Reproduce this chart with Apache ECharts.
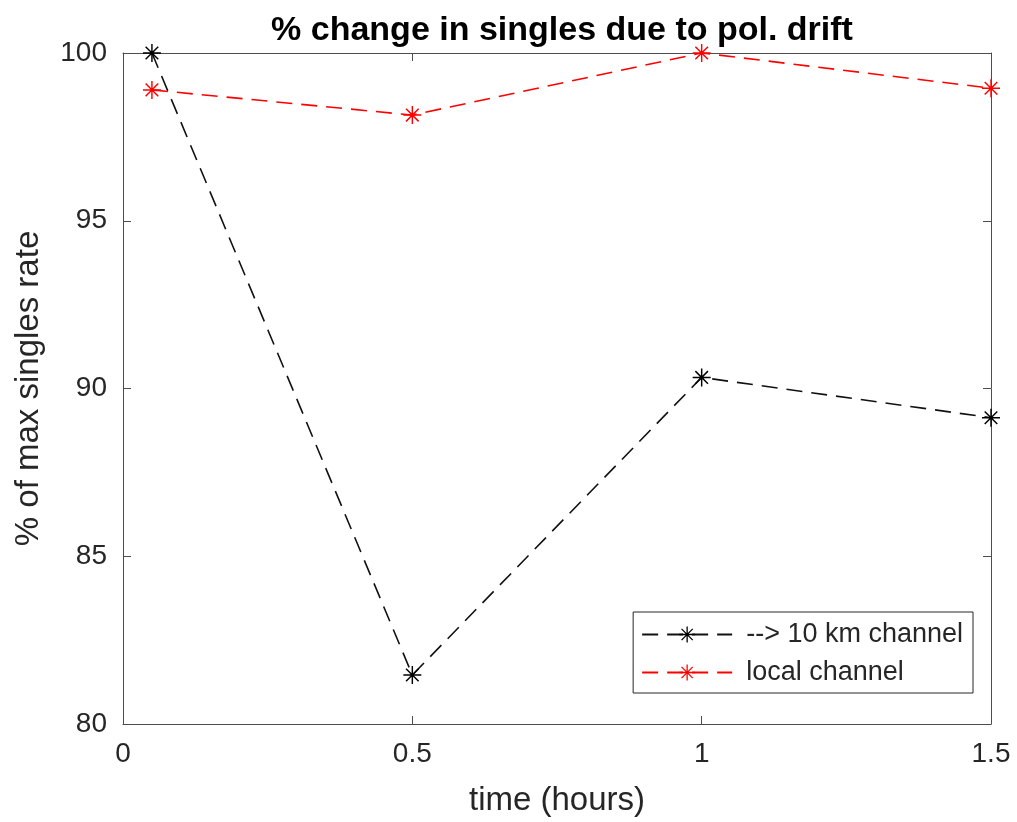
<!DOCTYPE html>
<html><head><meta charset="utf-8">
<script src="https://cdn.jsdelivr.net/npm/echarts@6/dist/echarts.min.js"></script>
<style>html,body{margin:0;padding:0;background:#fff}#c{width:1017px;height:822px}</style>
</head><body><div id="c"></div>
<script>
const timeHours = [0.05, 0.5, 1, 1.5];
const channel10km = [100, 81.46, 90.33, 89.13];
const localChannel = [98.9, 98.15, 100, 98.95];
const xTicks = [0, 0.5, 1, 1.5];
const yTicks = [80, 85, 90, 95, 100];
const seriesNames = ['--> 10 km channel', 'local channel'];

const star = 'path://M0 9.2L20 9.2L20 10.8L0 10.8Z M9.2 0L10.8 0L10.8 20L9.2 20Z M3.57 2.43L17.57 16.43L16.43 17.57L2.43 3.57Z M17.57 3.57L3.57 17.57L2.43 16.43L16.43 2.43Z';
const font = 'Liberation Sans, Arial, Helvetica, sans-serif';
const axisColor = '#4d4d4d';
const textColor = '#262626';

const chart = echarts.init(document.getElementById('c'), null, {renderer: 'canvas'});
function pairs(xs, ys){ return xs.map((x,i)=>[x, ys[i]]); }
const commonAxis = {
  axisLine: {show: true, onZero: false, lineStyle: {color: axisColor, width: 1}},
  axisTick: {show: true, inside: true, length: 8, lineStyle: {color: axisColor}},
  splitLine: {show: false}
};
chart.setOption({
  animation: false,
  backgroundColor: '#fff',
  title: {
    text: '% change in singles due to pol. drift',
    left: 557, top: 9, textAlign: 'center',
    textStyle: {fontFamily: font, fontWeight: 'bold', fontSize: 34, color: '#000'}
  },
  grid: {left: 123, right: 26, top: 53, bottom: 97},
  legend: {
    right: 44, top: 612,
    orient: 'vertical',
    data: seriesNames,
    itemWidth: 90, itemHeight: 20, itemGap: 11,
    padding: [9, 10, 7, 8],
    borderColor: '#262626', borderWidth: 1, backgroundColor: '#fff',
    textStyle: {fontFamily: font, fontSize: 27, color: textColor, padding: [0, 0, 0, 9]}
  },
  xAxis: [
    Object.assign({}, commonAxis, {
      type: 'value', min: 0, max: 1.5, interval: 0.5, position: 'bottom',
      name: 'time (hours)', nameLocation: 'middle', nameGap: 60,
      nameTextStyle: {fontFamily: font, fontSize: 33, color: textColor},
      axisLabel: {fontFamily: font, fontSize: 28, color: textColor, margin: 16,
        formatter: v => xTicks.includes(v) ? String(v) : ''}
    }),
    Object.assign({}, commonAxis, {
      type: 'value', min: 0, max: 1.5, interval: 0.5, position: 'top',
      axisLabel: {show: false}
    })
  ],
  yAxis: [
    Object.assign({}, commonAxis, {
      type: 'value', min: 80, max: 100, interval: 5, position: 'left',
      name: '% of max singles rate', nameLocation: 'middle', nameGap: 78,
      nameTextStyle: {fontFamily: font, fontSize: 33, color: textColor},
      axisLabel: {fontFamily: font, fontSize: 28, color: textColor, margin: 16,
        formatter: v => yTicks.includes(v) ? String(v) : ''}
    }),
    Object.assign({}, commonAxis, {
      type: 'value', min: 80, max: 100, interval: 5, position: 'right',
      axisLabel: {show: false}
    })
  ],
  series: [
    {
      name: seriesNames[0], type: 'line', data: pairs(timeHours, channel10km),
      symbol: star, symbolSize: 18, showSymbol: true,
      lineStyle: {color: '#111', width: 1.6, type: [16, 9]},
      itemStyle: {color: '#000'}
    },
    {
      name: seriesNames[1], type: 'line', data: pairs(timeHours, localChannel),
      symbol: star, symbolSize: 18, showSymbol: true,
      lineStyle: {color: '#ff0000', width: 1.6, type: [16, 9]},
      itemStyle: {color: '#ff0000'}
    }
  ]
});
</script></body></html>
